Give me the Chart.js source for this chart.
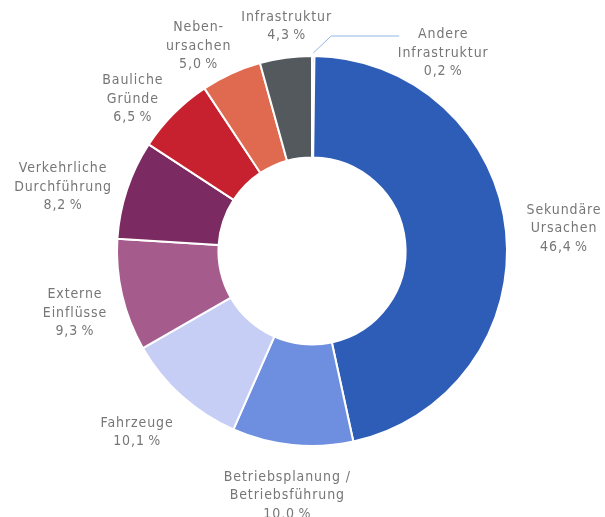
<!DOCTYPE html>
<html>
<head>
<meta charset="utf-8">
<script src="https://cdn.jsdelivr.net/npm/chart.js@4"></script>
<style>
  html, body { margin: 0; padding: 0; background: #fff; }
  #wrap { width: 605px; height: 517px; }
</style>
</head>
<body>
<div id="wrap"><canvas id="causes"></canvas></div>
<script>
// categories, clockwise from 12 o'clock
const categories = [
    ['Andere', 'Infrastruktur'],
    ['Sekundäre', 'Ursachen'],
    ['Betriebsplanung /', 'Betriebsführung'],
    ['Fahrzeuge'],
    ['Externe', 'Einflüsse'],
    ['Verkehrliche', 'Durchführung'],
    ['Bauliche', 'Gründe'],
    ['Neben-', 'ursachen'],
    ['Infrastruktur']
];
const shares = [0.2, 46.4, 10.0, 10.1, 9.3, 8.2, 6.5, 5.0, 4.3];
const valueLabels = ['0,2\u2009%', '46,4\u2009%', '10,0\u2009%', '10,1\u2009%', '9,3\u2009%', '8,2\u2009%', '6,5\u2009%', '5,0\u2009%', '4,3\u2009%'];

const colors = ['#8fb6ea', '#2e5db7', '#6e8fdf', '#c6cef6', '#a65b8d', '#7b2b61', '#c7212f', '#df6a4f', '#54595d'];

// label layout: gap beyond the ring and angle nudge (degrees) per slice
const labelGap = [0, 58, 51, 57, 50, 62, 40, 39, 31];
const labelTurn = [0, 0.7, 0, 2, -1.5, -4, -4.5, -4.5, 1.3];

const textColor = '#767676';
const font = '14px "DejaVu Sans Condensed", "DejaVu Sans", sans-serif';
const lineH = 18.5;

function drawBlock(ctx, lines, x, y) {
    // y = centre of the block
    const top = y - (lines.length - 1) * lineH / 2;
    lines.forEach((l, i) => ctx.fillText(l, x, top + i * lineH));
}

// labels placed outside each slice, along its middle angle
const outsideLabels = {
    id: 'outsideLabels',
    afterDatasetsDraw(chart) {
        const ctx = chart.ctx;
        const arcs = chart.getDatasetMeta(0).data;
        ctx.save();
        ctx.font = font;
        ctx.letterSpacing = '0.9px';
        ctx.fillStyle = textColor;
        ctx.textAlign = 'center';
        ctx.textBaseline = 'middle';
        arcs.forEach((arc, i) => {
            const mid = (arc.startAngle + arc.endAngle) / 2;
            const lines = categories[i].concat([valueLabels[i]]);
            if (i === 0) {
                // tiny slice: leader line up and to the right
                const x0 = arc.x + Math.cos(mid) * arc.outerRadius;
                const y0 = arc.y + Math.sin(mid) * arc.outerRadius - 3;
                ctx.strokeStyle = colors[0];
                ctx.lineWidth = 1;
                ctx.beginPath();
                ctx.moveTo(x0, y0);
                ctx.lineTo(x0 + 18, y0 - 17);
                ctx.lineTo(x0 + 86, y0 - 17);
                ctx.stroke();
                drawBlock(ctx, lines, x0 + 130, y0);
                return;
            }
            const a = mid + labelTurn[i] * Math.PI / 180;
            const dist = arc.outerRadius + labelGap[i];
            drawBlock(ctx, lines, arc.x + Math.cos(a) * dist, arc.y + Math.sin(a) * dist);
        });
        ctx.restore();
    }
};

const ctx = document.getElementById('causes').getContext('2d');
new Chart(ctx, {
    type: 'doughnut',
    data: {
        labels: categories.map(c => c.join(' ')),
        datasets: [{
            data: shares,
            backgroundColor: colors,
            borderColor: '#ffffff',
            borderWidth: 2
        }]
    },
    options: {
        responsive: true,
        maintainAspectRatio: false,
        animation: false,
        cutout: '48%',
        layout: { padding: { left: 116, right: 97, top: 55, bottom: 70 } },
        plugins: {
            legend: { display: false },
            tooltip: { enabled: false }
        }
    },
    plugins: [outsideLabels]
});
</script>
</body>
</html>
